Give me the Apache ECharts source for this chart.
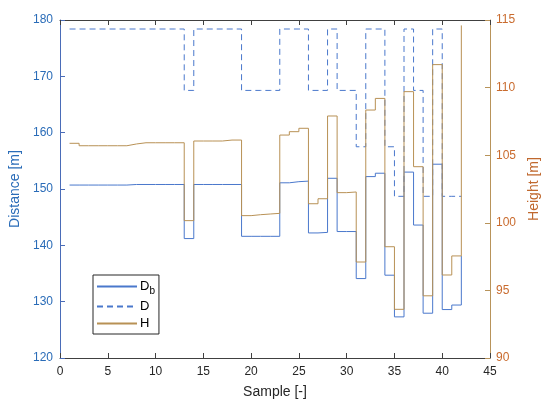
<!DOCTYPE html>
<html>
<head>
<meta charset="utf-8">
<script src="https://cdn.jsdelivr.net/npm/echarts@6/dist/echarts.min.js"></script>
<style>
html,body{margin:0;padding:0;background:#fff;}
#c{width:550px;height:408px;}
</style>
</head>
<body>
<div id="c"></div>
<script>
var samples = [1,2,3,4,5,6,7,8,9,10,11,12,13,14,15,16,17,18,19,20,21,22,23,24,25,26,27,28,29,30,31,32,33,34,35,36,37,38,39,40,41,42];
var Db = [150.7,150.7,150.7,150.7,150.7,150.7,150.8,150.8,150.8,150.8,150.8,150.8,
  141.2,150.8,150.8,150.8,150.8,150.8,141.6,141.6,141.6,141.6,151.1,151.3,151.4,
  142.2,142.3,151.9,142.45,142.45,134.1,152.2,152.8,134.7,127.3,153.0,143.6,127.95,
  154.4,128.6,129.4,138.1];
var D = [178.4,178.4,178.4,178.4,178.4,178.4,178.4,178.4,178.4,178.4,178.4,178.4,
  167.5,178.4,178.4,178.4,178.4,178.4,167.5,167.5,167.5,167.5,178.4,178.4,178.4,
  167.5,167.5,178.4,167.5,167.5,157.5,178.4,178.4,157.5,148.7,178.4,167.5,148.7,
  178.4,148.7,148.7,148.7];
var H = [105.88,105.7,105.7,105.7,105.7,105.7,105.83,105.92,105.92,105.92,105.92,105.92,
  100.16,106.05,106.05,106.05,106.12,106.12,100.53,100.6,100.65,100.7,106.49,106.74,106.99,
  101.41,101.78,107.9,102.23,102.28,97.1,108.34,109.2,98.23,93.6,109.7,104.15,94.6,
  111.7,96.14,97.55,114.6];
var xTicks = {min:0, max:45, step:5};
var leftTicks = {min:120, max:180, step:10};
var rightTicks = {min:90, max:115, step:5};

function pairs(v){ return samples.map(function(s,i){ return [s, v[i]]; }); }

var blue = '#4a78cc', brown = '#b89155';
var font = "'Liberation Sans', Arial, sans-serif";
var chart = echarts.init(document.getElementById('c'), null, {renderer:'canvas'});
chart.setOption({
  animation:false,
  textStyle:{fontFamily:font},
  grid:{left:60, right:60, top:20, bottom:50, show:false},
  xAxis:[{
    type:'value', min:xTicks.min, max:xTicks.max, interval:xTicks.step,
    position:'bottom',
    name:'Sample [-]', nameLocation:'middle', nameGap:27,
    nameTextStyle:{fontSize:14, color:'#262626', fontFamily:font},
    axisLine:{show:true, lineStyle:{color:'#404040', width:1}},
    axisTick:{show:true, inside:true, length:5, lineStyle:{color:'#404040'}},
    axisLabel:{fontSize:12, color:'#262626', margin:8, fontFamily:font},
    splitLine:{show:false}
  },{
    type:'value', min:xTicks.min, max:xTicks.max, interval:xTicks.step,
    position:'top',
    axisLine:{show:true, onZero:false, lineStyle:{color:'#404040', width:1}},
    axisTick:{show:true, inside:true, length:5, lineStyle:{color:'#404040'}},
    axisLabel:{show:false},
    splitLine:{show:false}
  }],
  yAxis:[{
    type:'value', min:leftTicks.min, max:leftTicks.max, interval:leftTicks.step,
    position:'left',
    name:'Distance [m]', nameLocation:'middle', nameGap:28,
    nameTextStyle:{fontSize:14, color:'#2a6cb8', fontFamily:font},
    axisLine:{show:true, onZero:false, lineStyle:{color:'#4a6cb8', width:1}},
    axisTick:{show:true, inside:true, length:5, lineStyle:{color:'#4a6cb8'}},
    axisLabel:{fontSize:12, color:'#2a6cb8', margin:7, fontFamily:font},
    splitLine:{show:false}
  },{
    type:'value', min:rightTicks.min, max:rightTicks.max, interval:rightTicks.step,
    position:'right',
    name:'Height [m]', nameLocation:'middle', nameGap:34, nameRotate:90,
    nameTextStyle:{fontSize:14, color:'#c0682e', fontFamily:font},
    axisLine:{show:true, onZero:false, lineStyle:{color:'#b8935a', width:1}},
    axisTick:{show:true, inside:true, length:5, lineStyle:{color:'#b8935a'}},
    axisLabel:{fontSize:12, color:'#c96b2e', margin:6, fontFamily:font},
    splitLine:{show:false}
  }],
  legend:{
    orient:'vertical', left:93, top:275,
    backgroundColor:'#fff', borderColor:'#262626', borderWidth:1, borderRadius:0,
    padding:[5,4,4,3], itemGap:4, itemWidth:40, itemHeight:14,
    itemStyle:{opacity:0},
    data:['Db','D','H'],
    formatter:function(n){ return n==='Db' ? '{m|D}{s|b}' : '{m|'+n+'}'; },
    textStyle:{color:'#000', fontFamily:font, padding:[0,0,0,-2],
      rich:{m:{fontSize:13, color:'#000', fontFamily:font},
            s:{fontSize:10, color:'#000', fontFamily:font, padding:[9,0,0,0]}}}
  },
  series:[{
    name:'Db', type:'line', step:'end', xAxisIndex:0, yAxisIndex:0,
    data:pairs(Db), symbol:'none', lineStyle:{color:blue, width:1}, itemStyle:{color:blue}, z:2
  },{
    name:'D', type:'line', step:'end', xAxisIndex:0, yAxisIndex:0,
    data:pairs(D), symbol:'none', lineStyle:{color:blue, width:1, type:[6,4]}, itemStyle:{color:blue}, z:3
  },{
    name:'H', type:'line', step:'end', xAxisIndex:0, yAxisIndex:1,
    data:pairs(H), symbol:'none', lineStyle:{color:brown, width:1}, itemStyle:{color:brown}, z:4
  }]
});
</script>
</body>
</html>
